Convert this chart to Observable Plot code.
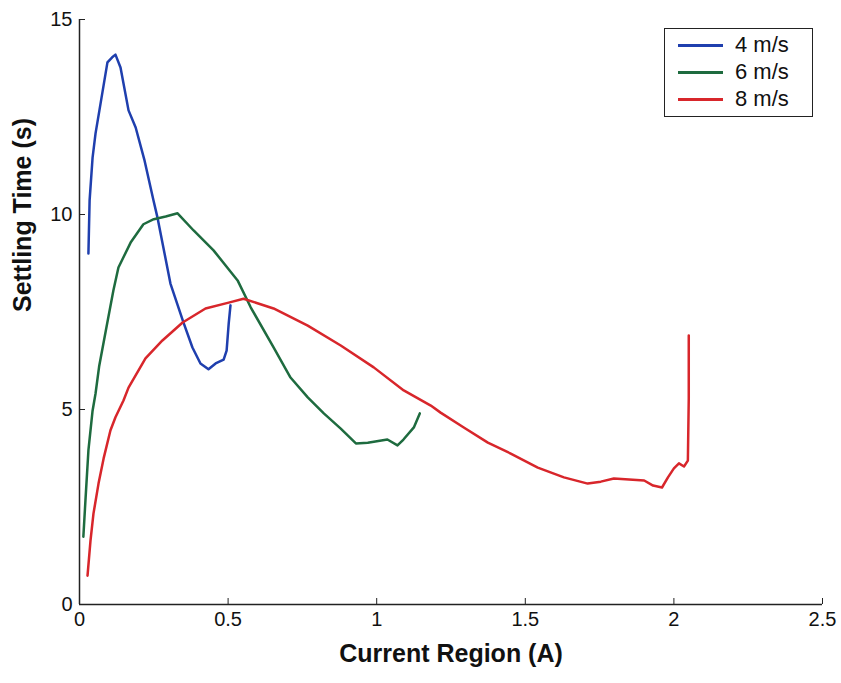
<!DOCTYPE html>
<html>
<head>
<meta charset="utf-8">
<script src="https://cdn.jsdelivr.net/npm/d3@7"></script>
<script src="https://cdn.jsdelivr.net/npm/@observablehq/plot@0.6"></script>
<style>
  html, body { margin: 0; padding: 0; background: #fff; }
  #wrap { position: relative; width: 841px; height: 683px; font-family: "Liberation Sans", Arial, sans-serif; }
  #legend { position: absolute; left: 664px; top: 28px; width: 149px; height: 89px; border: 1.5px solid #222; background: #fff; box-sizing: border-box; }
  .row { position: absolute; left: 0; height: 26px; }
  .swatch { position: absolute; left: 13px; top: 12px; width: 45px; height: 0; border-top: 3px solid; }
  .lab { position: absolute; left: 70px; top: 0; font-size: 22px; color: #111; white-space: nowrap; line-height: 26px; }
</style>
</head>
<body>
<div id="wrap"><div id="chart"></div><div id="legend"></div></div>
<script>
// Series names and colours
const seriesNames = ["4 m/s", "6 m/s", "8 m/s"];
const seriesColors = ["#1f3fae", "#1e6b3f", "#d8262b"];

// 4 m/s
const x4 = [0.03,0.034,0.044,0.054,0.067,0.094,0.11,0.121,0.138,0.165,0.189,0.219,0.249,0.263,0.306,0.35,0.38,0.407,0.434,0.458,0.485,0.495,0.502,0.508];
const y4 = [9.0,10.36,11.46,12.08,12.67,13.9,14.03,14.1,13.77,12.67,12.23,11.38,10.36,9.9,8.23,7.23,6.59,6.18,6.03,6.18,6.28,6.51,7.2,7.67];

// 6 m/s
const x6 = [0.013,0.02,0.03,0.044,0.054,0.066,0.088,0.114,0.131,0.172,0.215,0.25,0.29,0.33,0.384,0.451,0.532,0.576,0.653,0.71,0.768,0.822,0.879,0.93,0.97,1.036,1.07,1.09,1.125,1.145];
const y6 = [1.74,2.67,3.95,4.97,5.41,6.1,7.0,8.05,8.64,9.28,9.75,9.88,9.95,10.03,9.59,9.08,8.31,7.62,6.59,5.82,5.31,4.9,4.51,4.13,4.15,4.23,4.08,4.23,4.54,4.9];

// 8 m/s
const x8 = [0.027,0.037,0.047,0.064,0.081,0.104,0.121,0.148,0.165,0.222,0.279,0.347,0.424,0.502,0.552,0.653,0.768,0.879,0.99,1.091,1.182,1.215,1.293,1.374,1.451,1.542,1.63,1.71,1.754,1.798,1.9,1.93,1.96,1.98,2.0,2.017,2.034,2.047,2.05,2.05];
const y8 = [0.74,1.64,2.33,3.1,3.74,4.46,4.8,5.23,5.56,6.31,6.77,7.23,7.59,7.74,7.84,7.59,7.15,6.64,6.08,5.49,5.1,4.92,4.54,4.15,3.87,3.51,3.26,3.1,3.15,3.23,3.18,3.05,3.0,3.26,3.49,3.62,3.54,3.69,5.28,6.9];

// Ticks
const xTicks = [0, 0.5, 1, 1.5, 2, 2.5];
const xTickLabels = ["0", "0.5", "1", "1.5", "2", "2.5"];
const yTicks = [0, 5, 10, 15];
const yTickLabels = ["0", "5", "10", "15"];

const xTitle = "Current Region (A)";
const yTitle = "Settling Time (s)";

const seriesX = [x4, x6, x8];
const seriesY = [y4, y6, y8];
const rows = [];
seriesNames.forEach((name, s) => {
  seriesX[s].forEach((xv, i) => rows.push({series: name, x: xv, y: seriesY[s][i]}));
});

const chart = Plot.plot({
  width: 841,
  height: 683,
  marginLeft: 79,
  marginRight: 19,
  marginTop: 19,
  marginBottom: 79,
  x: {domain: [0, 2.5]},
  y: {domain: [0, 15]},
  color: {domain: seriesNames, range: seriesColors},
  style: {fontFamily: "'Liberation Sans', Arial, sans-serif", background: "#fff", color: "#111"},
  marks: [
    Plot.axisX(xTicks, {tickSize: -6, tickPadding: 13, fontSize: 20, label: null, stroke: "#222",
      tickFormat: d => xTickLabels[xTicks.indexOf(d)]}),
    Plot.axisY(yTicks, {tickSize: -6, tickPadding: 13, fontSize: 20, label: null, stroke: "#222",
      tickFormat: d => yTickLabels[yTicks.indexOf(d)]}),
    Plot.ruleX([0], {stroke: "#222", strokeWidth: 1.5}),
    Plot.ruleY([0], {stroke: "#222", strokeWidth: 1.5}),
    Plot.line(rows, {x: "x", y: "y", z: "series", stroke: "series", strokeWidth: 2.5, curve: "linear"}),
    Plot.text([xTitle], {text: d => d, frameAnchor: "bottom", dy: 57, fontWeight: "bold", fontSize: 25, fill: "#111"}),
    Plot.text([yTitle], {text: d => d, frameAnchor: "left", dx: -57, rotate: -90, fontWeight: "bold", fontSize: 25, fill: "#111"})
  ]
});
document.getElementById("chart").appendChild(chart);

const legend = document.getElementById("legend");
seriesNames.forEach((name, i) => {
  const row = document.createElement("div");
  row.className = "row";
  row.style.top = (3 + i * 27) + "px";
  row.style.width = "100%";
  const sw = document.createElement("div");
  sw.className = "swatch";
  sw.style.borderTopColor = seriesColors[i];
  const lab = document.createElement("div");
  lab.className = "lab";
  lab.textContent = name;
  row.appendChild(sw);
  row.appendChild(lab);
  legend.appendChild(row);
});
</script>
</body>
</html>
